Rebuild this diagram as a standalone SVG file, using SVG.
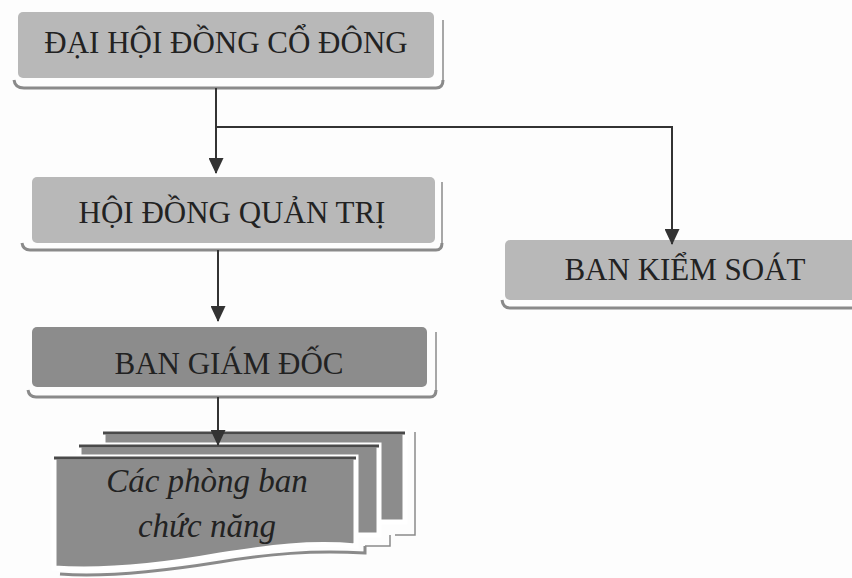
<svg xmlns="http://www.w3.org/2000/svg" width="852" height="578" viewBox="0 0 852 578">
<style>
.lbl{font-family:"Liberation Serif","Times New Roman",serif;font-size:31px;fill:#222;text-anchor:middle}
.it{font-style:italic;font-size:33px}
.light{fill:#b8b8b8}
.dark{fill:#8c8c8c}
.frame{fill:none;stroke:#8a8a8a;stroke-width:3}
.thin{fill:none;stroke:#8a8a8a;stroke-width:1.5}
.doc{fill:#8c8c8c;stroke:#ffffff;stroke-width:5}
.top{stroke:#4a4a4a;stroke-width:3}
.conn{fill:none;stroke:#333;stroke-width:2}
</style>
<defs>
<marker id="ah" markerWidth="16" markerHeight="15" refX="15" refY="7.5" orient="auto" markerUnits="userSpaceOnUse" viewBox="0 0 16 15">
<path d="M0,0 L16,7.5 L0,15 Z" fill="#333"/>
</marker>
</defs>
<rect width="852" height="578" fill="#fdfdfd"/>

<g id="dai-hoi-dong-co-dong">
<path class="frame" d="M14,80 Q15,88 24,88 L436,88 Q443,88 443,80"/>
<path class="thin" d="M443,82 L443,20"/>
<rect class="light" x="18" y="12" width="416" height="66" rx="5"/>
<text class="lbl" x="226" y="53">ĐẠI HỘI ĐỒNG CỔ ĐÔNG</text>
</g>

<g id="hoi-dong-quan-tri">
<path class="frame" d="M22,243 Q23,250 30,250 L436,250 Q442,250 442,243"/>
<path class="thin" d="M442,245 L442,182"/>
<rect class="light" x="32" y="177" width="403" height="66" rx="5"/>
<text class="lbl" x="232" y="223">HỘI ĐỒNG QUẢN TRỊ</text>
</g>

<g id="ban-giam-doc">
<path class="frame" d="M28,390 Q29,397 36,397 L430,397 Q436,397 436,390"/>
<path class="thin" d="M436,392 L436,332"/>
<rect class="dark" x="32" y="327" width="395" height="60" rx="5"/>
<text class="lbl" x="229" y="374">BAN GIÁM ĐỐC</text>
</g>

<g id="ban-kiem-soat">
<path class="frame" d="M502,300 Q503,308 510,308 L852,308"/>
<rect class="light" x="505" y="240" width="352" height="60" rx="5"/>
<text class="lbl" x="685" y="280">BAN KIỂM SOÁT</text>
</g>

<g id="cac-phong-ban">
<path class="thin" d="M415,432 L415,535 L395,535"/>
<rect class="doc" x="103" y="432" width="302" height="90"/>
<line class="top" x1="103" y1="433" x2="405" y2="433"/>
<path class="thin" d="M390,535 L390,546 L365,546"/>
<rect class="doc" x="79" y="445" width="300" height="90"/>
<line class="top" x1="79" y1="446" x2="379" y2="446"/>
<path class="frame" d="M60,574 C110,578 170,570 220,562 C270,554 310,550 365,553 L365,546"/>
<path class="doc" d="M54,457 H356 V546 C310,542 270,547 220,555 C170,564 110,572 54,568 Z"/>
<line class="top" x1="54" y1="458" x2="356" y2="458"/>
<text class="lbl it" x="207" y="492">Các phòng ban</text>
<text class="lbl it" x="207" y="537">chức năng</text>
</g>

<g id="connectors">
<path class="conn" d="M216,88 L216,173" marker-end="url(#ah)"/>
<path class="conn" d="M216,127 L672,127 L672,244" marker-end="url(#ah)"/>
<path class="conn" d="M218,250 L218,321" marker-end="url(#ah)"/>
<path class="conn" d="M218,397 L218,445" marker-end="url(#ah)"/>
</g>
</svg>
